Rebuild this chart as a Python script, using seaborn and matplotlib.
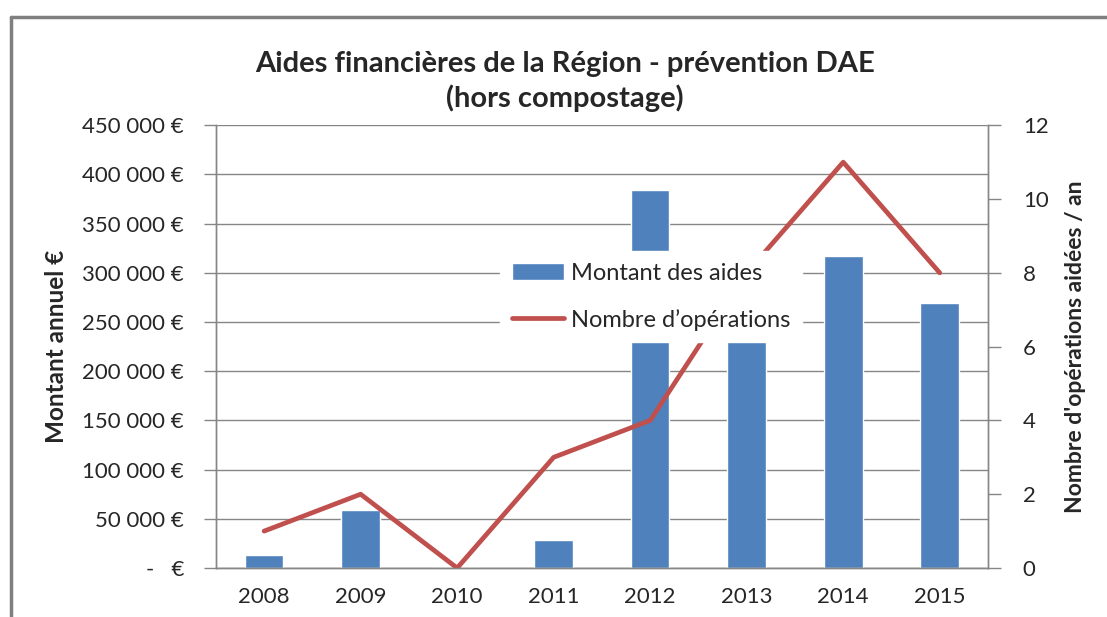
import numpy as np
import pandas as pd
import matplotlib
matplotlib.use('Agg')
import matplotlib.pyplot as plt
from matplotlib.ticker import FuncFormatter, MultipleLocator, FixedLocator
from matplotlib.lines import Line2D
import seaborn as sns

sns.set_style('white')
plt.rcParams['font.family'] = ['Lato', 'DejaVu Sans']

years = ['2008', '2009', '2010', '2011', '2012', '2013', '2014', '2015']
montant = [13000, 59000, 0, 28500, 384000, 280000, 317000, 269000]
nb_operations = [1, 2, 0, 3, 4, 8, 11, 8]

bar_col = '#4F81BD'
line_col = '#C0504D'
grid_col = '#868686'

df = pd.DataFrame({'annee': years, 'montant': montant, 'nb': nb_operations})

fig = plt.figure(figsize=(11.07, 6.17), dpi=100)
ax = fig.add_axes([0.195, 0.0794, 0.6975, 0.7176])

sns.barplot(data=df, x='annee', y='montant', color=bar_col, saturation=1,
            width=0.4, ax=ax, label='Montant des aides', legend=False)

ax2 = ax.twinx()
sns.lineplot(x=np.arange(len(years)), y=df['nb'], color=line_col, lw=3.4,
             ax=ax2, label="Nombre d’opérations", legend=False)

def euro_fmt(v, pos):
    if v == 0:
        return '-   €'
    return '{:,.0f} €'.format(v).replace(',', ' ')

ax.set_ylim(0, 450000)
ax.yaxis.set_major_locator(MultipleLocator(50000))
ax.yaxis.set_major_formatter(FuncFormatter(euro_fmt))
ax.set_xlim(-0.5, len(years) - 0.5)
ax.yaxis.grid(True, color=grid_col, lw=1)
ax.set_axisbelow(True)

ax2.set_ylim(0, 12)
ax2.yaxis.set_major_locator(MultipleLocator(2))

# Excel style: ticks between categories
ax.xaxis.set_minor_locator(FixedLocator(np.arange(-0.5, len(years), 1)))
ax.tick_params(axis='x', which='major', length=0, pad=14, labelsize=16)
ax.tick_params(axis='x', which='minor', length=9, color=grid_col, width=1)
ax.tick_params(axis='y', length=9, color=grid_col, width=1, pad=14, labelsize=16, left=True)
ax2.tick_params(axis='y', length=9, color=grid_col, width=1, pad=16, labelsize=16, right=True)

for a in (ax, ax2):
    a.spines['top'].set_visible(False)
    for s in ('left', 'right', 'bottom'):
        a.spines[s].set_color(grid_col)
        a.spines[s].set_linewidth(1)

ax.set_xlabel('')
ax.set_ylabel('Montant annuel €', fontsize=17.5, fontweight='bold', labelpad=10)
ax2.set_ylabel("Nombre d'opérations aidées / an", fontsize=16.5, fontweight='bold', labelpad=12)

fig.text(0.51, 0.868, 'Aides financières de la Région - prévention DAE\n(hors compostage)',
         ha='center', va='center', fontsize=21, fontweight='bold', linespacing=1.3)

h1, l1 = ax.get_legend_handles_labels()
h2, l2 = ax2.get_legend_handles_labels()
leg = ax2.legend(h1 + h2, l1 + l2, loc='center', bbox_to_anchor=(0.588, 0.519),
                 bbox_transform=fig.transFigure, frameon=True, fancybox=False,
                 framealpha=1, edgecolor='white', fontsize=17, labelspacing=1.05,
                 handlelength=2.2, handletextpad=0.3, borderpad=0.5)
leg.set_zorder(10)

# outer chart frame (left and top only)
fig.add_artist(Line2D([0.0099, 0.0099], [0, 0.973], color='#7f7f7f', lw=2.5, transform=fig.transFigure))
fig.add_artist(Line2D([0.0099, 1.0], [0.973, 0.973], color='#7f7f7f', lw=2.5, transform=fig.transFigure))

fig.savefig('out.png', dpi=100)
